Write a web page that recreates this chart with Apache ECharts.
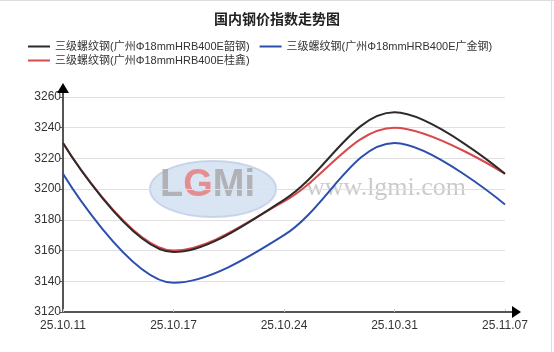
<!DOCTYPE html>
<html><head><meta charset="utf-8">
<script src="https://cdn.jsdelivr.net/npm/echarts@6/dist/echarts.min.js"></script>
<style>html,body{margin:0;padding:0;background:#fff}#c{width:554px;height:352px}</style>
</head><body><div id="c"></div>
<script>
const categories = ['25.10.11','25.10.17','25.10.24','25.10.31','25.11.07'];
const seriesNames = ['三级螺纹钢(广州Φ18mmHRB400E韶钢)','三级螺纹钢(广州Φ18mmHRB400E广金钢)','三级螺纹钢(广州Φ18mmHRB400E桂鑫)'];
const shaogang = [3230, 3159, 3193, 3250, 3210];
const guangjin = [3210, 3139, 3170, 3230, 3190];
const guixin = [3230, 3160, 3192, 3240, 3210];
const yTicks = [3120, 3140, 3160, 3180, 3200, 3220, 3240, 3260];
const colors = ['#2f2a2a', '#2b4fae', '#d9484a'];

const chart = echarts.init(document.getElementById('c'));
const font = '"Liberation Sans", Arial, "Noto Sans CJK SC", sans-serif';
const legendCommon = {
  itemWidth: 22, itemHeight: 2, itemGap: 10, icon: 'rect', padding: 0,
  textStyle: {fontSize: 11, color: '#333', fontFamily: font}
};
chart.setOption({
  animation: false,
  textStyle: {fontFamily: font},
  title: {text: '国内钢价指数走势图', left: 'center', top: 8,
    textStyle: {fontSize: 14, fontWeight: 'bold', color: '#222', fontFamily: font}},
  legend: [
    Object.assign({left: 28, top: 41, data: [seriesNames[0], seriesNames[1]]}, legendCommon),
    Object.assign({left: 28, top: 55, data: [seriesNames[2]]}, legendCommon)
  ],
  grid: {left: 63, right: 49, top: 97, bottom: 40, containLabel: false},
  graphic: [
    {type: 'line', z: 5, shape: {x1: 505, y1: 312, x2: 513, y2: 312}, style: {stroke: '#555', lineWidth: 2}},
    {type: 'polygon', z: 5, shape: {points: [[512,306],[521,312],[512,318]]}, style: {fill: '#000'}},
    {type: 'line', z: 5, shape: {x1: 63, y1: 97, x2: 63, y2: 90}, style: {stroke: '#555', lineWidth: 2}},
    {type: 'polygon', z: 5, shape: {points: [[57,93],[63,83],[69,93]]}, style: {fill: '#000'}},
    {type: 'ellipse', z: 0, shape: {cx: 213, cy: 189, rx: 63, ry: 28}, style: {fill: 'rgba(205,220,240,0.75)', stroke: 'rgba(190,205,230,0.8)', lineWidth: 2}},
    {type: 'text', z: 0, left: 160, top: 167, style: {
      text: '{g|L}{r|G}{g|M}{g|i}',
      rich: {
        g: {font: 'bold 38px "Liberation Sans", Arial', fill: 'rgba(165,165,165,0.8)'},
        r: {font: 'bold 38px "Liberation Sans", Arial', fill: 'rgba(230,120,120,0.8)'}
      }}},
    {type: 'text', z: 0, left: 306, top: 175, style: {text: 'www.lgmi.com', font: '26px "Liberation Serif", "DejaVu Serif", serif', fill: 'rgba(180,180,180,0.7)'}},
    {type: 'line', z: 0, shape: {x1: 0, y1: 0.5, x2: 554, y2: 0.5}, style: {stroke: '#ddd', lineWidth: 1}},
    {type: 'line', z: 0, shape: {x1: 551.5, y1: 0, x2: 551.5, y2: 352}, style: {stroke: '#ddd', lineWidth: 1}}
  ],
  xAxis: {
    type: 'category', data: categories, boundaryGap: false,
    axisLine: {lineStyle: {color: '#555', width: 2}},
    axisTick: {show: true, alignWithLabel: true, length: -3, lineStyle: {color: '#ccc'}},
    axisLabel: {fontSize: 12, color: '#333', margin: 8},
    splitLine: {show: false}
  },
  yAxis: {
    type: 'value', min: 3120, max: 3260, interval: 20,
    axisLine: {show: true, lineStyle: {color: '#555', width: 2}},
    axisTick: {show: true, length: 3, lineStyle: {color: '#555'}},
    axisLabel: {fontSize: 12, color: '#333', margin: 2,
      formatter: v => yTicks.includes(v) ? String(v) : ''},
    splitLine: {show: true, lineStyle: {color: '#e0e0e0', width: 1}}
  },
  series: [
    {name: seriesNames[0], type: 'line', data: shaogang, smooth: 0.35, showSymbol: false, z: 3,
      lineStyle: {width: 2, color: colors[0]}, itemStyle: {color: colors[0]}},
    {name: seriesNames[1], type: 'line', data: guangjin, smooth: 0.35, showSymbol: false, z: 3,
      lineStyle: {width: 2, color: colors[1]}, itemStyle: {color: colors[1]}},
    {name: seriesNames[2], type: 'line', data: guixin, smooth: 0.35, showSymbol: false, z: 2,
      lineStyle: {width: 2, color: colors[2]}, itemStyle: {color: colors[2]}}
  ]
});
</script></body></html>
